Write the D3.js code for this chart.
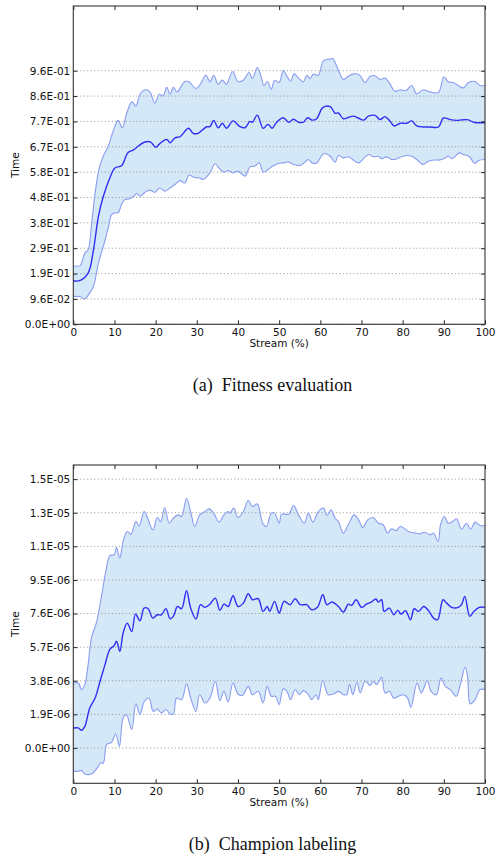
<!DOCTYPE html>
<html>
<head>
<meta charset="utf-8">
<script src="https://d3js.org/d3.v7.min.js"></script>
<style>
  body { margin: 0; background: #fff; }
</style>
</head>
<body>
<script>
var width = 495;
var height = 856;

// x ticks (stream %), shared by both panels
var xTicks = [0, 10, 20, 30, 40, 50, 60, 70, 80, 90, 100];

// (a) Fitness evaluation -- y ticks and labels
var yTicksA = [0, 0.096, 0.192, 0.288, 0.384, 0.48, 0.576, 0.672, 0.768, 0.864, 0.96];
var yLabelsA = ["0.0E+00", "9.6E-02", "1.9E-01", "2.9E-01", "3.8E-01", "4.8E-01",
                "5.8E-01", "6.7E-01", "7.7E-01", "8.6E-01", "9.6E-01"];

// [stream %, time]
var meanA = [[0,0.165],[1.5,0.165],[3.6,0.194],[4.9,0.282],[6.1,0.409],[7.3,0.485],[8.9,0.555],[10.1,0.592],[11.7,0.60],[13.3,0.65],[14.6,0.66],[15.8,0.675],[17.4,0.69],[18.8,0.69],[20,0.67],[21,0.684],[22.7,0.70],[23.5,0.687],[24.7,0.706],[25.9,0.71],[28,0.742],[29.1,0.723],[30.3,0.723],[32.4,0.748],[33.2,0.748],[34.1,0.772],[35.2,0.744],[36.2,0.761],[37.2,0.742],[38.8,0.77],[40.5,0.748],[41.7,0.744],[42.9,0.768],[43.5,0.765],[44.7,0.792],[46.1,0.742],[47.3,0.757],[48.3,0.742],[49.3,0.763],[51,0.782],[52.3,0.765],[53.5,0.776],[54.7,0.765],[55.9,0.765],[56.9,0.782],[58,0.773],[59.1,0.778],[60.6,0.82],[62.4,0.824],[63.6,0.799],[64.4,0.80],[65.6,0.778],[66.8,0.783],[68,0.788],[69.3,0.78],[70.5,0.773],[71.7,0.788],[73.3,0.791],[74.5,0.775],[75.7,0.786],[76.9,0.77],[77.9,0.751],[79.4,0.761],[81,0.761],[82.2,0.77],[83.4,0.751],[85,0.747],[86.6,0.747],[88.7,0.747],[89.9,0.781],[91.5,0.775],[93.1,0.772],[94.4,0.774],[96,0.774],[97.2,0.765],[100,0.763]];
var upperA = [[0,0.222],[1.6,0.222],[2.8,0.27],[3.6,0.282],[4.4,0.371],[5.2,0.485],[6.3,0.592],[7.3,0.637],[8.5,0.675],[9.7,0.732],[10.9,0.772],[11.9,0.744],[12.9,0.795],[14.2,0.842],[15.2,0.827],[16.2,0.871],[17.4,0.888],[18.6,0.88],[19.8,0.837],[20.9,0.871],[21.8,0.865],[22.7,0.897],[23.5,0.871],[24.3,0.897],[25.2,0.88],[27.1,0.919],[28.1,0.918],[29.8,0.893],[31.1,0.915],[32.2,0.944],[33.2,0.918],[34.1,0.943],[35.2,0.909],[36.2,0.925],[37.2,0.909],[38.7,0.957],[40,0.919],[41.3,0.924],[42.7,0.953],[43.5,0.93],[44.7,0.972],[45.7,0.934],[46.3,0.903],[47.1,0.919],[48.1,0.89],[48.9,0.924],[50,0.915],[51,0.962],[51.9,0.939],[52.8,0.92],[53.6,0.948],[54.7,0.932],[55.9,0.918],[56.7,0.943],[57.5,0.93],[58.3,0.947],[59.5,0.943],[60.8,0.998],[62.4,1.004],[63,1.006],[64.4,0.962],[65.6,0.927],[66.8,0.939],[68,0.948],[69.5,0.944],[70.9,0.915],[72.1,0.939],[73.3,0.941],[74.5,0.927],[75.7,0.932],[76.9,0.911],[78.1,0.882],[79.5,0.888],[80.8,0.885],[82.2,0.904],[83.4,0.873],[85,0.888],[86.6,0.88],[88.7,0.878],[90,0.937],[91.1,0.918],[92.3,0.915],[93.5,0.904],[94.7,0.895],[96,0.915],[97.6,0.919],[98.8,0.904],[100,0.904]];
var lowerA = [[0,0.105],[1.6,0.105],[2.8,0.096],[4,0.12],[4.9,0.143],[6.1,0.232],[7.3,0.295],[8.5,0.365],[9.3,0.415],[10.1,0.422],[10.9,0.422],[11.7,0.453],[12.5,0.472],[13.7,0.475],[14.7,0.485],[15.4,0.495],[16.3,0.485],[17.4,0.5],[18.6,0.508],[19.8,0.5],[21,0.516],[22.2,0.504],[23.5,0.516],[24.7,0.529],[25.9,0.544],[27.1,0.535],[28.1,0.565],[29.2,0.557],[30.7,0.554],[31.5,0.548],[33.2,0.573],[34.4,0.608],[35.4,0.591],[36.6,0.576],[37.6,0.582],[38.8,0.573],[40,0.58],[41.7,0.561],[42.9,0.596],[44.1,0.599],[45.2,0.611],[46.1,0.576],[47.3,0.586],[48.5,0.599],[50,0.61],[51,0.611],[52.3,0.614],[53.5,0.605],[55.1,0.601],[56.3,0.614],[57.1,0.624],[58,0.611],[59.1,0.611],[60.8,0.646],[62.2,0.639],[63.6,0.614],[64.4,0.639],[65.6,0.63],[66.8,0.634],[68,0.622],[69.3,0.611],[70.5,0.627],[71.7,0.643],[72.9,0.634],[74.1,0.636],[74.9,0.627],[76.1,0.634],[77.3,0.624],[78.5,0.626],[79.7,0.634],[81,0.639],[82.2,0.636],[83.4,0.624],[85,0.605],[86.2,0.617],[87.8,0.622],[89,0.622],[90.3,0.63],[91.1,0.637],[91.9,0.627],[93.8,0.649],[94.7,0.643],[96,0.637],[97.6,0.609],[98.4,0.62],[100,0.624]];

// (b) Champion labeling -- values in units of 1E-06
var yTicksB = [0, 1.9, 3.8, 5.7, 7.6, 9.5, 11.4, 13.3, 15.2];
var yLabelsB = ["0.0E+00", "1.9E-06", "3.8E-06", "5.7E-06", "7.6E-06", "9.5E-06",
                "1.1E-05", "1.3E-05", "1.5E-05"];

var meanB = [[0,1.13],[1.2,1.13],[2,1.0],[2.8,1.22],[4,2.26],[5.3,2.82],[6.5,3.77],[7.7,4.71],[8.9,5.59],[9.9,5.78],[10.5,6.03],[11.3,5.46],[12.1,6.50],[13.1,7.06],[14.2,6.59],[15.1,7.57],[16.2,7.19],[17.2,7.91],[18.2,7.87],[19.3,7.34],[20.4,7.53],[21.4,7.53],[22.5,7.87],[23.5,7.31],[24.3,7.44],[25.3,8.00],[26.3,7.87],[27.5,8.89],[28.5,7.91],[29.8,7.29],[30.9,8.10],[32,7.95],[33.2,8.13],[34.5,8.47],[35.6,7.78],[36.6,8.13],[37.6,8.00],[38.8,8.61],[40,8.00],[41.3,8.19],[42.5,8.72],[43.5,8.38],[44.9,8.44],[46.1,7.72],[47.1,8.00],[47.7,7.72],[48.9,8.29],[50,7.63],[51.2,8.29],[52.7,8.10],[53.9,8.44],[55.1,8.10],[56.7,8.10],[57.9,7.81],[59.3,7.95],[60.6,8.66],[61.6,8.10],[62.8,8.25],[64.4,8.00],[65.6,7.68],[66.8,8.13],[67.6,8.06],[68.7,8.38],[70,7.95],[71.2,8.13],[72.4,8.25],[73.5,8.42],[74.1,8.25],[74.9,8.38],[75.5,7.72],[76.8,7.91],[77.8,7.53],[78.8,7.78],[79.6,7.57],[80.7,7.76],[81.9,7.25],[82.8,7.87],[83.9,7.72],[85.1,8.00],[86.3,7.76],[87.5,7.34],[88.5,7.25],[89.8,8.38],[90.7,8.19],[91.9,7.95],[93.5,7.95],[94.3,8.10],[95.1,8.57],[96.3,7.44],[97.3,7.72],[98.6,7.95],[100,7.95]];
var upperB = [[0,3.67],[1.2,3.67],[2,3.30],[2.8,3.58],[3.6,4.71],[4.4,6.21],[5.7,7.16],[6.9,8.66],[7.9,9.98],[8.9,10.88],[9.9,10.92],[10.5,11.34],[11.3,10.73],[12.1,11.68],[13.1,12.24],[14,12.09],[15.2,12.80],[16,12.56],[17.2,13.37],[18.2,12.90],[19.3,12.33],[20.4,13.03],[21.2,12.80],[22.2,13.60],[23.3,12.71],[24.3,12.99],[25.5,13.18],[26.3,13.09],[27.5,14.12],[28.5,13.37],[29.5,12.52],[30.7,13.18],[32,13.37],[33,13.52],[34.1,13.28],[35.4,12.77],[36.6,13.18],[37.6,13.37],[38,13.28],[39,13.56],[40,13.03],[41.3,13.37],[42.5,13.99],[43.5,13.65],[44.7,13.80],[46,12.71],[46.9,12.52],[48.1,13.28],[48.9,13.28],[50,12.71],[50.6,13.22],[52.3,13.22],[53.5,13.71],[54.7,13.18],[56.1,12.71],[57.1,13.28],[58.2,12.77],[59.5,13.37],[60.8,13.56],[61.6,13.14],[62.6,13.46],[63.6,12.99],[64.4,12.80],[65.6,12.15],[66.8,12.62],[68.2,13.18],[69.3,12.90],[70.3,12.47],[71.5,12.90],[72.9,13.03],[74.1,12.71],[75.3,12.62],[76.3,12.15],[77.3,12.39],[78.4,12.28],[79.4,12.52],[80.3,12.43],[81.4,12.24],[82.6,12.18],[84.1,12.11],[85.4,12.20],[86.7,12.05],[87.5,12.15],[88.6,11.67],[89.2,12.62],[90.1,13.09],[91.1,12.71],[92.3,12.84],[93.1,12.96],[94.3,12.37],[95.5,12.71],[96.5,12.37],[97.6,12.77],[98.8,12.58],[100,12.58]];
var lowerB = [[0,-1.32],[1.2,-1.32],[2,-1.28],[2.8,-1.47],[4.4,-1.47],[5.7,-1.17],[6.6,-0.85],[7.3,-0.85],[8.1,0.19],[9.3,0.32],[10.3,0.79],[11.2,0.09],[12.1,1.69],[12.9,1.88],[14.2,1.04],[15.2,2.49],[16.2,1.88],[17.2,2.60],[18.4,2.82],[19.4,2.07],[20.4,2.20],[21.4,1.98],[22.5,2.17],[23.5,1.92],[24.3,1.92],[25.1,2.82],[26.3,2.73],[27.5,3.62],[28.5,2.82],[29.8,2.07],[30.7,3.01],[32,2.54],[33.2,2.82],[34.5,3.77],[35.6,2.67],[36.6,3.20],[37.6,2.60],[38.8,3.67],[40,3.05],[41.1,2.98],[42.5,3.48],[43.5,3.01],[44.9,3.20],[46.1,2.54],[47.1,3.48],[48.1,2.92],[49.1,2.92],[50,2.45],[51,3.35],[51.9,3.20],[52.8,2.73],[53.9,3.30],[54.9,3.01],[55.9,3.24],[57.1,3.01],[57.9,2.73],[59,3.01],[59.5,2.73],[60.6,3.80],[61.9,3.01],[63.2,3.05],[64.4,3.20],[65.6,3.01],[66.4,3.01],[67.1,3.58],[67.9,3.01],[68.9,3.73],[69.7,3.11],[70.9,3.77],[72.1,3.54],[72.9,3.77],[73.7,3.58],[74.9,3.99],[75.7,3.11],[76.8,3.20],[77.8,2.82],[79,2.92],[80.2,3.01],[81.2,2.82],[82,2.30],[83.5,3.67],[84.5,3.11],[86,3.80],[86.9,3.20],[88.2,3.01],[89.3,3.95],[90.4,3.48],[91.6,3.30],[93,2.92],[94,3.58],[95.2,4.58],[95.8,3.95],[96.4,2.49],[97.6,2.73],[98.8,3.30],[100,3.30]];

var svg = d3.select("body").append("svg")
    .attr("width", width)
    .attr("height", height)
    .style("display", "block");

var tickFont = "'DejaVu Sans', sans-serif";

function drawPanel(p) {
    var x = d3.scaleLinear().domain([0, 100]).range([p.left, p.right]);
    var y = d3.scaleLinear().domain(p.domain).range([p.bottom, p.top]);
    var g = svg.append("g");

    var line = d3.line()
        .x(function(d) { return x(d[0]); })
        .y(function(d) { return y(d[1]); })
        .curve(d3.curveCatmullRom);

    // band between lower and upper
    var up = line(p.upper);
    var lo = line(p.lower.slice().reverse());
    g.append("path")
        .attr("d", up + "L" + lo.slice(1) + "Z")
        .style("fill", "#d5e8f7")
        .style("stroke", "none");

    // dotted horizontal grid
    g.selectAll("line.grid")
        .data(p.ticks)
        .enter().append("line")
        .attr("class", "grid")
        .attr("x1", p.left).attr("x2", p.right)
        .attr("y1", function(d) { return y(d); })
        .attr("y2", function(d) { return y(d); })
        .style("stroke", "#888")
        .style("stroke-width", 0.9)
        .style("stroke-dasharray", "1,2.5");

    g.append("path").attr("d", line(p.upper))
        .style("fill", "none").style("stroke", "#8a9cf0").style("stroke-width", 1.1);
    g.append("path").attr("d", line(p.lower))
        .style("fill", "none").style("stroke", "#8a9cf0").style("stroke-width", 1.1);
    g.append("path").attr("d", line(p.mean))
        .style("fill", "none").style("stroke", "#2f2ff2").style("stroke-width", 1.4);

    // axes (ticks pointing inward)
    g.append("g").attr("transform", "translate(0," + p.bottom + ")")
        .call(d3.axisBottom(x).tickValues(xTicks).tickSizeInner(-4).tickSizeOuter(0).tickPadding(4));
    g.append("g").attr("transform", "translate(0," + p.top + ")")
        .call(d3.axisTop(x).tickValues(xTicks).tickSizeInner(-4).tickSizeOuter(0).tickFormat(""));
    g.append("g").attr("transform", "translate(" + p.left + ",0)")
        .call(d3.axisLeft(y).tickValues(p.ticks).tickSizeInner(-4).tickSizeOuter(0).tickPadding(3)
            .tickFormat(function(d, i) { return p.labels[i]; }));
    g.append("g").attr("transform", "translate(" + p.right + ",0)")
        .call(d3.axisRight(y).tickValues(p.ticks).tickSizeInner(-4).tickSizeOuter(0).tickFormat(""));

    g.selectAll(".domain").remove();
    g.selectAll(".tick line").style("stroke", "#222");
    g.selectAll(".tick text")
        .style("font-family", tickFont)
        .style("font-size", "10.5px")
        .style("fill", "#111");

    // frame
    g.append("rect")
        .attr("x", p.left).attr("y", p.top)
        .attr("width", p.right - p.left).attr("height", p.bottom - p.top)
        .style("fill", "none").style("stroke", "#333").style("stroke-width", 1.1);

    g.append("text")
        .attr("transform", "translate(19," + ((p.top + p.bottom) / 2) + ") rotate(-90)")
        .attr("text-anchor", "middle")
        .style("font-family", tickFont).style("font-size", "10.5px").style("fill", "#111")
        .text("Time");

    g.append("text")
        .attr("x", (p.left + p.right) / 2).attr("y", p.bottom + 23)
        .attr("text-anchor", "middle")
        .style("font-family", tickFont).style("font-size", "10.5px").style("fill", "#111")
        .text("Stream (%)");

    g.append("text")
        .attr("x", 272.5).attr("y", p.bottom + 67)
        .attr("text-anchor", "middle")
        .style("font-family", "'Liberation Serif', serif").style("font-size", "18px").style("fill", "#111")
        .text(p.caption);
}

drawPanel({
    left: 73.3, right: 485, top: 6, bottom: 324.3,
    domain: [0, 1.205],
    ticks: yTicksA, labels: yLabelsA,
    mean: meanA, upper: upperA, lower: lowerA,
    caption: "(a)\u2002Fitness evaluation"
});

drawPanel({
    left: 73.3, right: 485, top: 465, bottom: 783.3,
    domain: [-2.0, 16.0],
    ticks: yTicksB, labels: yLabelsB,
    mean: meanB, upper: upperB, lower: lowerB,
    caption: "(b)\u2002Champion labeling"
});
</script>
</body>
</html>
